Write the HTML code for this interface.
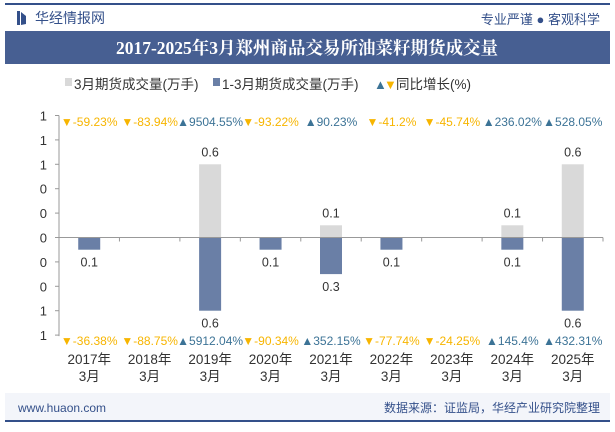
<!DOCTYPE html>
<html><head><meta charset="utf-8">
<style>
body{margin:0;width:615px;height:427px;overflow:hidden;background:#fff;font-family:"Liberation Sans","Noto Sans CJK SC",sans-serif;}
svg text{font-family:"Liberation Sans","Noto Sans CJK SC",sans-serif;}
</style></head><body>
<svg id="c" width="615" height="427" viewBox="0 0 615 427" xmlns="http://www.w3.org/2000/svg">
<rect x="5" y="3" width="605" height="2" fill="#34508a"/>
<rect x="17" y="11" width="3" height="14" fill="#34508a"/>
<path d="M21 12 L26 16 L26 24 L21 25Z" fill="#34508a"/>
<text x="35" y="23" font-size="14" fill="#34508a">华经情报网</text>
<text x="600" y="24" font-size="13" fill="#34508a" text-anchor="end">专业严谨 ● 客观科学</text>
<rect x="5" y="31" width="605" height="33" fill="#475f92"/>
<text x="307" y="54" font-size="17.5" font-weight="bold" fill="#fff" text-anchor="middle" style="font-family:'Liberation Serif','Noto Serif CJK SC',serif">2017-2025年3月郑州商品交易所油菜籽期货成交量</text>
<g font-size="13.5" fill="#333">
<rect x="65" y="78" width="7" height="8" fill="#d9d9d9"/>
<text x="74" y="89">3月期货成交量(万手)</text>
<rect x="213" y="78" width="7" height="8" fill="#6a7fa6"/>
<text x="222" y="89">1-3月期货成交量(万手)</text>
<text x="374" y="89" font-size="13" fill="#3c7396">▲</text>
<text x="384" y="89" font-size="13" fill="#f7b500">▼</text>
<text x="396" y="89">同比增长(%)</text>
</g>
<g id="plot"></g>
<rect x="5" y="393" width="605" height="28" fill="#f3f5fa"/>
<rect x="5" y="420" width="605" height="2" fill="#34508a"/>
<text x="18" y="412" font-size="12" fill="#34508a">www.huaon.com</text>
<text x="600" y="412" font-size="12" fill="#34508a" text-anchor="end">数据来源：证监局，华经产业研究院整理</text>
</svg>
<script>
const categories=["2017年","2018年","2019年","2020年","2021年","2022年","2023年","2024年","2025年"];
const marchVol=[0,0,0.6,0,0.1,0,0,0.1,0.6];
const ytdVol=[0.1,0,0.6,0.1,0.3,0.1,0,0.1,0.6];
const marchGrowth=[-59.23,-83.94,9504.55,-93.22,90.23,-41.2,-45.74,236.02,528.05];
const ytdGrowth=[-36.38,-88.75,5912.04,-90.34,352.15,-77.74,-24.25,145.4,432.31];
const yTicks=[1.0,0.8,0.6,0.4,0.2,0,-0.2,-0.4,-0.6,-0.8];
const yTickLabels=["1","1","1","0","0","0","0","0","1","1"];

const NS="http://www.w3.org/2000/svg";
const g=document.getElementById('plot');
const X0=59,X1=603,Y0=237.5,PPU=122;
const bw=(X1-X0)/categories.length;
const y=v=>Y0-v*PPU;
const xc=i=>X0+bw*(i+0.5);
function mk(t,a,txt){const e=document.createElementNS(NS,t);for(const k in a)e.setAttribute(k,a[k]);if(txt!=null)e.textContent=txt;g.appendChild(e);return e;}

let e=mk('line',{x1:X0,y1:y(1),x2:X0,y2:y(-0.8)+1,stroke:'#999'});


yTicks.forEach((v,i)=>{
 let t=mk('line',{x1:X0-4,x2:X0,y1:y(v),y2:y(v),stroke:'#999'});
 
 
 let l=mk('text',{x:X0-12,y:y(v)+5,'font-size':13,fill:'#333','text-anchor':'end'},yTickLabels[i]);
 
 
});
categories.forEach((c,i)=>{
 const cx=xc(i),w=22;
 if(marchVol[i]>0){
  let b=mk('rect',{x:cx-w/2,y:y(marchVol[i]),width:w,height:Y0-y(marchVol[i]),fill:'#d9d9d9'});
  
  
  let l=mk('text',{x:cx,y:y(marchVol[i])-8,'font-size':12.5,fill:'#333','text-anchor':'middle'},marchVol[i].toFixed(1));
  
  
 }
 if(ytdVol[i]>0){
  let b=mk('rect',{x:cx-w/2,y:Y0,width:w,height:y(-ytdVol[i])-Y0,fill:'#6a7fa6'});
  
  
  let l=mk('text',{x:cx,y:y(-ytdVol[i])+17,'font-size':12.5,fill:'#333','text-anchor':'middle'},ytdVol[i].toFixed(1));
  
  
 }
 [[marchGrowth[i],122],[ytdGrowth[i],341]].forEach(([v,yy],k)=>{
  const up=v>=0,col=up?'#3c7396':'#f7b500';
  let l=mk('text',{x:cx,y:yy+4,'font-size':12,fill:col,'text-anchor':'middle'},(up?'▲':'▼')+v+'%');
  
  
 });
 let a=mk('text',{x:cx,y:364,'font-size':13.5,fill:'#333','text-anchor':'middle'},c);
 
 
 let m=mk('text',{x:cx,y:381,'font-size':13.5,fill:'#333','text-anchor':'middle'},'3月');
 
 
 let tk=mk('line',{x1:X0+bw*(i+1),x2:X0+bw*(i+1),y1:Y0,y2:Y0+4,stroke:'#999'});
 
 
});
e=mk('line',{x1:X0,x2:X1,y1:Y0,y2:Y0,stroke:'#999'});


</script>
</body></html>
